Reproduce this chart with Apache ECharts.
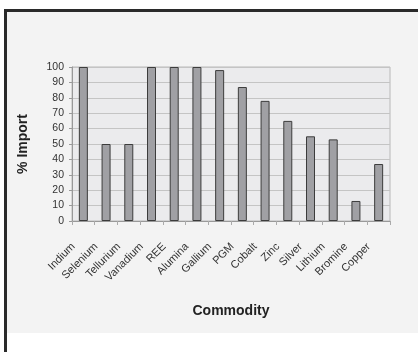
<!DOCTYPE html>
<html><head><meta charset="utf-8">
<script src="https://cdn.jsdelivr.net/npm/echarts@6/dist/echarts.min.js"></script>
<style>html,body{margin:0;padding:0;background:#fff}#c{width:418px;height:352px}</style>
</head><body><div id="c"></div>
<script>
const categories = ['Indium','Selenium','Tellurium','Vanadium','REE','Alumina','Gallium','PGM','Cobalt','Zinc','Silver','Lithium','Bromine','Copper'];
const importPct = [100,50,50,100,100,100,98,87,78,65,55,53,13,37];
const yTicks = {min:0, max:100, interval:10};

const chart = echarts.init(document.getElementById('c'), null, {renderer:'canvas'});
chart.setOption({
  animation:false,
  backgroundColor:'#ffffff',
  graphic:[
    {type:'rect', shape:{x:7,y:12,width:411,height:321}, style:{fill:'#f3f3f3'}, z:-10},
    {type:'rect', shape:{x:4,y:9,width:3,height:343}, style:{fill:'#2a2a2a'}, z:-9},
    {type:'rect', shape:{x:4,y:9,width:414,height:3}, style:{fill:'#2a2a2a'}, z:-9}
  ],
  grid:{left:72, top:67, width:318, height:154, backgroundColor:'#ebebed', show:true, borderColor:'#b8b8b8', borderWidth:1},
  xAxis:{
    type:'category', data:categories,
    name:'Commodity', nameLocation:'middle', nameGap:83,
    nameTextStyle:{fontFamily:'Liberation Sans', fontWeight:'bold', fontSize:14, color:'#222'},
    axisLine:{lineStyle:{color:'#999', width:1}},
    axisTick:{show:true, length:4, lineStyle:{color:'#aaa'}},
    axisLabel:{rotate:45, fontFamily:'Liberation Sans', fontSize:11, color:'#333', margin:14, padding:[0,14,0,0], interval:0}
  },
  yAxis:{
    type:'value', min:yTicks.min, max:yTicks.max, interval:yTicks.interval,
    name:'% Import', nameLocation:'middle', nameGap:42,
    nameTextStyle:{fontFamily:'Liberation Sans', fontWeight:'bold', fontSize:14, color:'#222'},
    axisLine:{show:true, lineStyle:{color:'#999'}},
    axisTick:{show:true, length:3, lineStyle:{color:'#999'}},
    axisLabel:{fontFamily:'Liberation Sans', fontSize:10.5, color:'#333', margin:8},
    splitLine:{lineStyle:{color:'#c4c4c4', width:1}}
  },
  series:[{
    type:'bar', data:importPct, barWidth:9,
    itemStyle:{color:'#a0a0a4', borderColor:'#3c3c3c', borderWidth:1}
  }]
});
</script></body></html>
